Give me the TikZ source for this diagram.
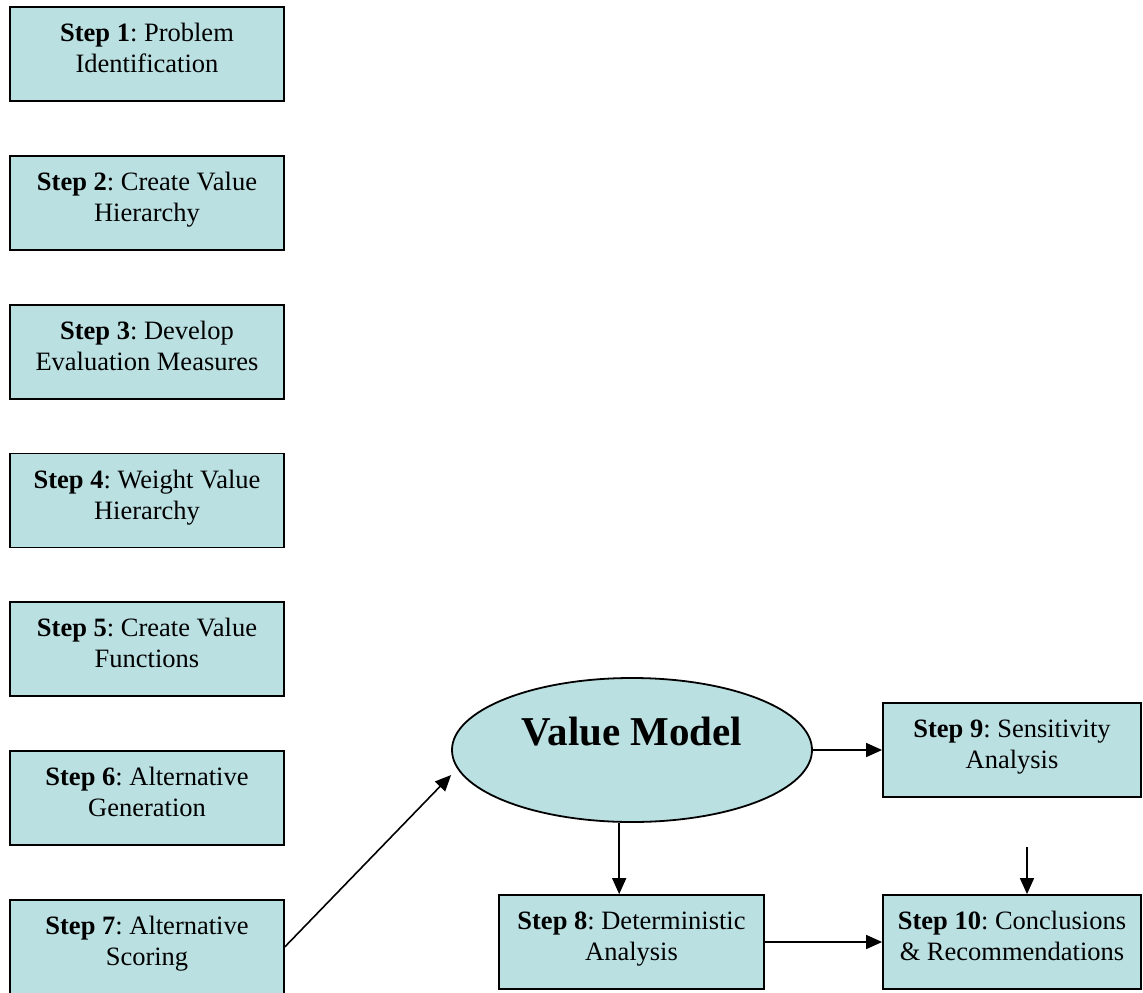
\documentclass[tikz,border=0pt]{standalone}
\usepackage{fontspec}
\setmainfont{Liberation Serif}
\frenchspacing
\definecolor{stepfill}{RGB}{186,224,226}
\usetikzlibrary{calc}
\usetikzlibrary{positioning}
\usetikzlibrary{shapes.geometric}
\usetikzlibrary{arrows.meta}
\tikzset{
  stepbox/.style={draw, line width=1.8pt, fill=stepfill, minimum width=274pt,
    minimum height=94pt, inner sep=0pt, align=center,
    font=\fontsize{26.5pt}{31pt}\selectfont,
    execute at begin node={\rule{0pt}{18pt}},
    execute at end node={\rule[-12pt]{0pt}{0pt}}},
  modelnode/.style={draw, line width=1.8pt, fill=stepfill, ellipse,
    minimum width=360pt, minimum height=144pt, inner sep=0pt,
    font=\fontsize{41pt}{48pt}\selectfont\bfseries,
    text height=28pt, text depth=38pt},
  flow/.style={->, line width=1.6pt}
}

\begin{document}
\begin{tikzpicture}[x=1pt, y=1pt, >={Triangle[length=16pt,width=14pt]}]
  \useasboundingbox (0,0) rectangle (1143,-993);

  % the steps on the left
  \node [stepbox] (s1) at (147,-54) {\textbf{Step 1}: Problem\\Identification};
  \node [stepbox, below=53pt of s1] (s2) {\textbf{Step 2}: Create Value\\Hierarchy};
  \node [stepbox, below=53pt of s2] (s3) {\textbf{Step 3}: Develop\\Evaluation Measures};
  \node [stepbox, below=53pt of s3] (s4) {\textbf{Step 4}: Weight Value\\Hierarchy};
  \node [stepbox, below=53pt of s4] (s5) {\textbf{Step 5}: Create Value\\Functions};
  \node [stepbox, below=53pt of s5] (s6) {\textbf{Step 6}: Alternative\\Generation};
  \node [stepbox, below=53pt of s6] (s7) {\textbf{Step 7}: Alternative\\Scoring};

  % model and analysis
  \node [modelnode] (vm) at (632,-750) {Value Model};
  \node [stepbox, minimum width=265pt] (s8) at (631.5,-942) {\textbf{Step 8}: Deterministic\\Analysis};
  \node [stepbox, minimum width=258pt] (s9) at (1012,-750) {\textbf{Step 9}: Sensitivity\\Analysis};
  \node [stepbox, minimum width=258pt] (s10) at (1012,-942) {\textbf{Step 10}: Conclusions\\\& Recommendations};
  \coordinate (c10) at (1027,-847);

  \draw [flow] (s7.east) -- ($(vm.west)+(0,-25)$);
  \draw [flow] (vm.east) -- (s9.west);
  \draw [flow] (vm.-100) -- (vm.-100 |- s8.north);
  \draw [flow] (s8.east) -- (s10.west);
  \draw [flow] (c10) -- (c10 |- s10.north);

\end{tikzpicture}
\end{document}
